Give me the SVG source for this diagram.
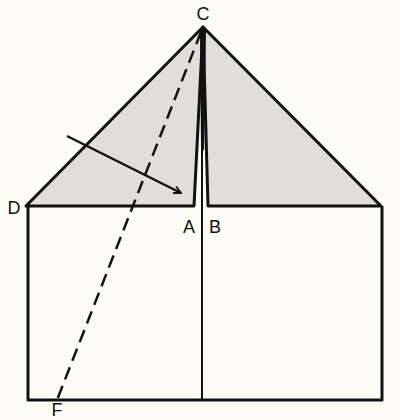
<svg xmlns="http://www.w3.org/2000/svg" width="400" height="420" viewBox="0 0 400 420">
<defs>
<marker id="arr" viewBox="0 0 10 10" refX="9" refY="5" markerWidth="9" markerHeight="9" orient="auto" markerUnits="userSpaceOnUse"><path d="M1,1 L9,5 L1,9" fill="none" stroke="#111" stroke-width="2"/></marker>
<style>
.ln{stroke:#111;stroke-width:3;fill:none;stroke-linejoin:round}
.flap{fill:#e0ded6}
.lb{font-family:"Liberation Sans",Arial,sans-serif;font-size:18px;fill:#111}
</style>
</defs>
<rect width="400" height="420" fill="#fdfcf4"/>
<g id="left-flap"><polygon points="26,206 203,27 194,206" class="ln flap"/></g>
<g id="right-flap"><polygon points="203,27 381,206 208,206" class="ln flap"/></g>
<g id="base"><polyline points="28,206 28,400 382,400 382,206" class="ln"/></g>
<g id="connectors">
<line x1="202" y1="27" x2="202" y2="400" stroke="#111" stroke-width="2"/>
<polygon points="200,30 206,30 204,150 201,150" fill="#111"/>
<line x1="201" y1="32" x2="57" y2="400" stroke="#111" stroke-width="2.5" stroke-dasharray="13,7"/>
<line x1="67" y1="136" x2="181" y2="193" stroke="#111" stroke-width="2.5" marker-end="url(#arr)"/>
</g>
<g id="labels">
<text class="lb" x="203" y="20" text-anchor="middle">C</text>
<text class="lb" x="14" y="214" text-anchor="middle">D</text>
<text class="lb" x="189" y="233" text-anchor="middle">A</text>
<text class="lb" x="215" y="233" text-anchor="middle">B</text>
<text class="lb" x="57" y="416" text-anchor="middle" font-size="14">F</text>
</g>
</svg>
